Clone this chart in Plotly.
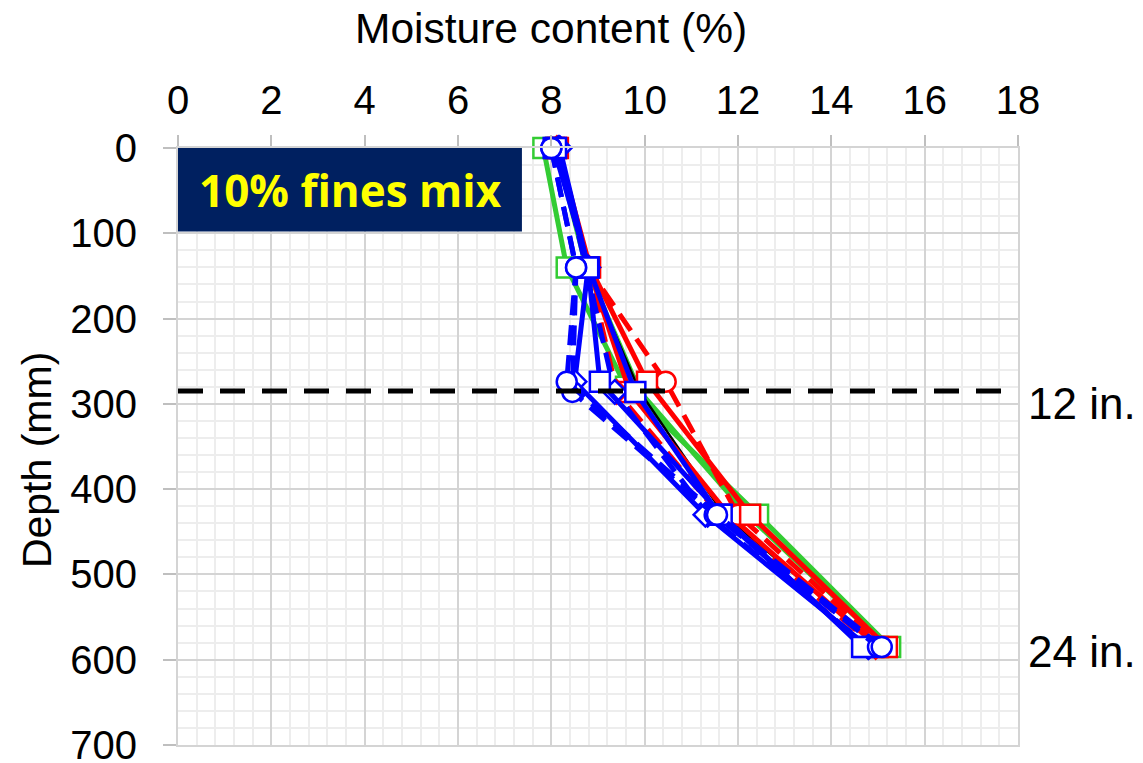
import plotly.graph_objects as go

# Moisture profiles, 10% fines mix: depth (mm) vs moisture content (%)
depth_upper = [0, 140, 274, 430, 585]
depth_lower = [0, 140, 286, 430, 585]
depth_mid = [0, 140, 280, 430, 585]

green_1 = [7.83, 8.33, 9.60, 12.43, 15.26]
green_2 = [8.10, 8.75, 9.90, 12.20, 15.20]
black_1 = [8.10, 8.75, 9.90, 11.70, 15.05]
red_1 = [8.14, 8.83, 10.05, 12.26, 15.19]
red_2 = [8.10, 8.78, 10.45, 12.00, 15.12]
red_3 = [8.12, 8.80, 9.40, 11.60, 14.95]
red_4 = [8.10, 8.80, 9.68, 11.80, 15.00]
blue_1 = [8.10, 8.79, 9.04, 11.65, 14.66]
blue_2 = [8.05, 8.80, 9.80, 11.60, 14.70]
blue_3 = [8.00, 8.53, 8.33, 11.55, 15.08]
blue_4 = [8.00, 8.53, 8.45, 11.50, 15.00]
blue_5 = [8.18, 8.79, 8.50, 11.30, 14.79]
blue_6 = [8.15, 8.75, 9.36, 11.35, 14.80]

ref_depth = 285          # 12 in. reference depth (mm)
x_ticks = list(range(0, 19, 2))
y_ticks = list(range(0, 701, 100))

GREEN = "#33cc33"
RED = "#ff0000"
BLUE = "#0000ff"
DASH = "20px,10px"

series = [
    (green_1, depth_mid, GREEN, "solid", "square"),
    (green_2, depth_lower, GREEN, "solid", None),
    (black_1, depth_lower, "#000000", "solid", None),
    (red_4, depth_lower, RED, "solid", "square"),
    (red_3, depth_lower, RED, DASH, "diamond"),
    (red_2, depth_upper, RED, DASH, "circle"),
    (red_1, depth_upper, RED, "solid", "square"),
    (blue_6, depth_lower, BLUE, DASH, "diamond"),
    (blue_5, depth_upper, BLUE, "solid", "diamond"),
    (blue_2, depth_lower, BLUE, "solid", "square"),
    (blue_1, depth_upper, BLUE, "solid", "square"),
    (blue_4, depth_lower, BLUE, DASH, "circle"),
    (blue_3, depth_upper, BLUE, DASH, "circle"),
]

fig = go.Figure()

for xs, ys, color, dash, symbol in series:
    width = 2.5 if color == "#000000" else 5
    if symbol is None:
        mode = "lines"
        marker = None
    else:
        mode = "lines+markers"
        marker = dict(symbol=symbol, size=20 if symbol != "diamond" else 18,
                      color="white", line=dict(color=color, width=2.5))
    fig.add_trace(go.Scatter(
        x=xs, y=ys, mode=mode,
        line=dict(color=color, width=width, dash=dash),
        marker=marker, showlegend=False, cliponaxis=False,
    ))

# 12 in. reference line
fig.add_shape(type="line", xref="x", yref="y", x0=0, x1=18, y0=ref_depth, y1=ref_depth,
              line=dict(color="black", width=5, dash="25px,17px"), layer="above")

# Mix label box
fig.add_shape(type="rect", xref="x", yref="y", x0=0, x1=7.37, y0=0, y1=98,
              fillcolor="#002060", line=dict(width=0), layer="above")
fig.add_annotation(x=3.69, y=49, xref="x", yref="y", text="<b>10% fines mix</b>",
                   showarrow=False, font=dict(family="Open Sans", size=44, color="#ffff00"),
                   xanchor="center", yanchor="middle")

TXT = dict(family="Arial, Liberation Sans", color="black")

fig.add_annotation(x=0.444, y=1.2, xref="paper", yref="paper", text="Moisture content (%)",
                   showarrow=False, font=dict(size=42.5, **TXT), xanchor="center", yanchor="middle")
fig.add_annotation(x=-0.168, y=0.477, xref="paper", yref="paper", text="Depth (mm)",
                   showarrow=False, textangle=-90, font=dict(size=41, **TXT),
                   xanchor="center", yanchor="middle")
fig.add_annotation(x=1.0095, y=299, xref="paper", yref="y", text="12 in.",
                   showarrow=False, font=dict(size=44, **TXT), xanchor="left", yanchor="middle")
fig.add_annotation(x=1.0095, y=590, xref="paper", yref="y", text="24 in.",
                   showarrow=False, font=dict(size=44, **TXT), xanchor="left", yanchor="middle")

AX = dict(ticks="outside", tickcolor="#bfbfbf", tickwidth=2, showgrid=True,
          gridcolor="#d4d4d4", gridwidth=2, zeroline=False,
          showline=True, linecolor="#d4d4d4", linewidth=2, mirror=True,
          ticklabeloverflow="allow", automargin=False, tickfont=dict(size=40, **TXT))

fig.update_xaxes(range=[0, 18], side="top", tickvals=x_ticks, ticklen=11,
                 ticklabelstandoff=5,
                 minor=dict(dtick=0.4, showgrid=True, gridcolor="#ededed", gridwidth=2),
                 **AX)
fig.update_yaxes(range=[700, 0], tickvals=y_ticks, ticklen=13, ticklabelstandoff=18,
                 minor=dict(dtick=20, showgrid=True, gridcolor="#ededed", gridwidth=2),
                 **AX)

fig.update_layout(width=1143, height=763, margin=dict(l=178, r=125, t=148, b=18),
                  plot_bgcolor="white", paper_bgcolor="white")

fig.write_html("out.html")
